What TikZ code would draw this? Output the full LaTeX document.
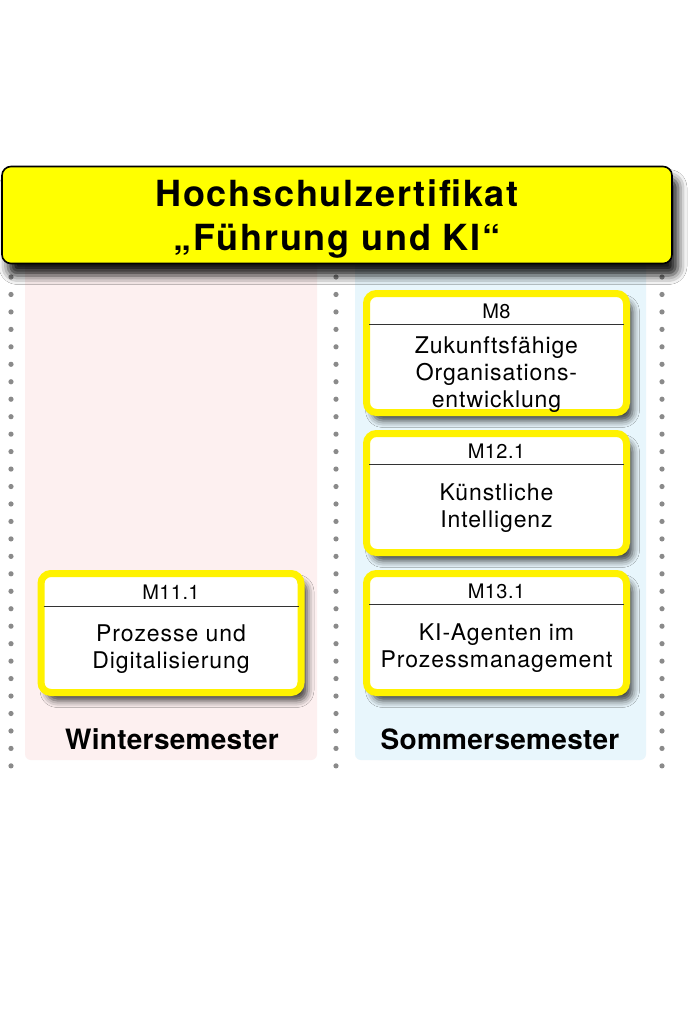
\documentclass[tikz,border=0pt]{standalone}
\usepackage{fontspec}
\setmainfont{TeX Gyre Heros}
\newfontfamily\titelschrift[LetterSpace=5]{TeX Gyre Heros}
\newfontfamily\modulschrift[LetterSpace=4]{TeX Gyre Heros}
\newfontfamily\kopfschrift[LetterSpace=2]{TeX Gyre Heros}
\newfontfamily\semesterschrift[LetterSpace=1]{TeX Gyre Heros}
\usetikzlibrary{shadows.blur}

\definecolor{titelgelb}{HTML}{FFFF00}
\definecolor{rahmengelb}{HTML}{FFF200}
\definecolor{wsrosa}{HTML}{FDF0F0}
\definecolor{ssblau}{HTML}{E8F6FC}
\definecolor{punktgrau}{HTML}{8A8A8A}

\begin{document}
\begin{tikzpicture}[x=1pt,y=-1pt,
  titel/.style={draw=black, line width=1.6pt, fill=titelgelb, rounded corners=9pt,
    minimum width=670pt, minimum height=97pt, inner sep=0pt,
    blur shadow={shadow xshift=6pt, shadow yshift=-12pt, shadow blur radius=9pt, shadow opacity=90}},
  titeltext/.style={font=\titelschrift\bfseries\fontsize{36}{40}\selectfont, inner sep=0pt},
  modul/.style={draw=rahmengelb, line width=7pt, fill=white, rounded corners=10pt,
    minimum width=260pt, minimum height=119pt, inner sep=0pt,
    blur shadow={shadow xshift=6pt, shadow yshift=-8pt, shadow blur radius=7pt, shadow opacity=75}},
  trennlinie/.style={line width=0.8pt, black!80},
  kopf/.style={font=\kopfschrift\fontsize{20}{22}\selectfont, inner sep=0pt},
  inhalt/.style={font=\modulschrift\fontsize{23}{27}\selectfont, align=center, inner sep=0pt},
  semester/.style={font=\semesterschrift\bfseries\fontsize{28}{30}\selectfont, inner sep=0pt}]

  \fill[white] (0,0) rectangle (690,1020);
  \useasboundingbox (0,0) rectangle (690,1020);

  % Semester panels
  \fill[wsrosa, rounded corners=6pt] (25,262) rectangle (317,760);
  \fill[ssblau, rounded corners=6pt] (355,262) rectangle (646,760);

  % Dotted separators
  \foreach \x in {11,336,662}
    \foreach \i in {0,...,28}
      \fill[punktgrau] (\x,277+\i*17.46) circle (2.6);

  % Title
  \node[titel] (titel) at (337,215) {};
  \node[titeltext, anchor=base] (zeile1) at (337,206) {Hochschulzertifikat};
  \node[titeltext, anchor=base] (zeile2) at (337,250) {„Führung und KI“};

  % Sommersemester modules
  \node[modul] (m8) at (496.5,353) {};
  \draw[trennlinie] ([xshift=6pt,yshift=-34pt]m8.north west) -- ([xshift=-6pt,yshift=-34pt]m8.north east);
  \node[kopf] (m8kopf) at ([yshift=-21pt]m8.north) {M8};
  \node[inhalt] (m8text) at ([yshift=-22pt]m8.center) {Zukunftsfähige\\Organisations-\\entwicklung};

  \node[modul] (m12) at (496.5,493) {};
  \draw[trennlinie] ([xshift=6pt,yshift=-34pt]m12.north west) -- ([xshift=-6pt,yshift=-34pt]m12.north east);
  \node[kopf] (m12kopf) at ([yshift=-21pt]m12.north) {M12.1};
  \node[inhalt] (m12text) at ([yshift=-15pt]m12.center) {Künstliche\\Intelligenz};

  \node[modul] (m13) at (496.5,633) {};
  \draw[trennlinie] ([xshift=6pt,yshift=-34pt]m13.north west) -- ([xshift=-6pt,yshift=-34pt]m13.north east);
  \node[kopf] (m13kopf) at ([yshift=-21pt]m13.north) {M13.1};
  \node[inhalt] (m13text) at ([yshift=-15pt]m13.center) {KI-Agenten im\\Prozessmanagement};

  % Wintersemester module
  \node[modul] (m11) at (171,633) {};
  \draw[trennlinie] ([xshift=6pt,yshift=-36pt]m11.north west) -- ([xshift=-6pt,yshift=-36pt]m11.north east);
  \node[kopf] (m11kopf) at ([yshift=-22pt]m11.north) {M11.1};
  \node[inhalt] (m11text) at ([yshift=-16pt]m11.center) {Prozesse und\\Digitalisierung};

  % Semester labels
  \node[semester] (ws) at (172,739) {Wintersemester};
  \node[semester] (ss) at (500,739) {Sommersemester};
\end{tikzpicture}
\end{document}
